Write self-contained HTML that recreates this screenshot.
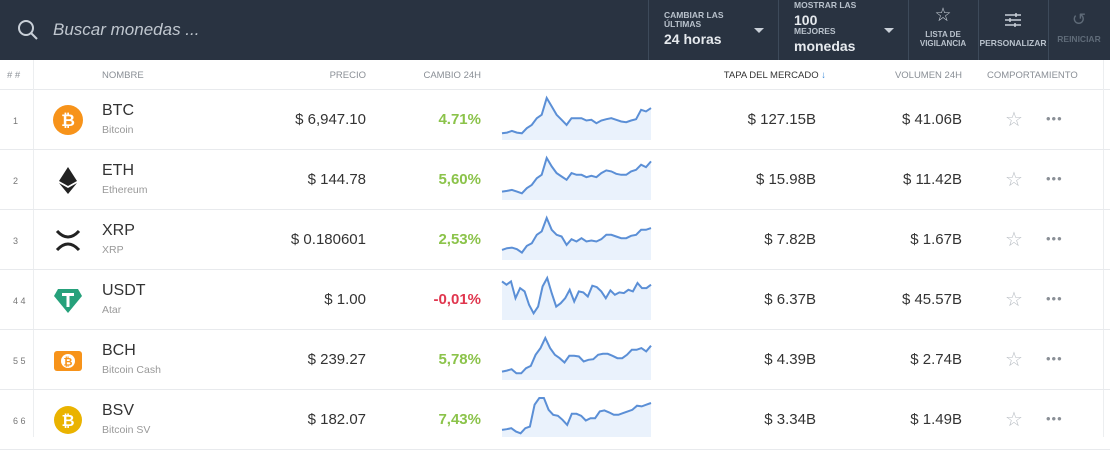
<!DOCTYPE html>
<html><head><meta charset="utf-8">
<style>
*{margin:0;padding:0;box-sizing:border-box}
body{width:1110px;height:437px;overflow:hidden;background:#fff;font-family:"Liberation Sans",Arial,sans-serif;position:relative}
.abs{position:absolute}
#top{left:0;top:0;width:1110px;height:60px;background:#293341}
.div{top:0;width:1px;height:60px;background:#3d4a5a}
.sm{font-size:8.5px;font-weight:bold;color:#b9c2cc;line-height:9px}
.big{font-size:14px;font-weight:bold;color:#e6eaee}
.ch{top:70px;font-size:9.5px;color:#8a8f96}
.row{left:0;width:1110px;height:60px;border-bottom:1px solid #e8eaed}
.rk{left:13px;font-size:9px;color:#777}
.sym{left:102px;font-size:16px;color:#333}
.nm{left:102px;font-size:10.5px;color:#999}
.r{text-align:right;font-size:15px;color:#333}
.pos{color:#8bc34a;font-weight:bold}
.neg{color:#e0364e;font-weight:bold}
</style></head><body>
<div id="top" class="abs">
 <svg class="abs" style="left:16px;top:18px" width="24" height="24"><circle cx="10" cy="10" r="7" fill="none" stroke="#c9d0d8" stroke-width="2"/><line x1="15" y1="15" x2="21" y2="21" stroke="#c9d0d8" stroke-width="2"/></svg>
 <div class="abs" style="left:53px;top:20px;font-size:17px;font-style:italic;color:#c0c7cf">Buscar monedas ...</div>
 <div class="abs div" style="left:648px"></div>
 <div class="abs" style="left:664px;top:11px"><div class="sm">CAMBIAR LAS<br>ÚLTIMAS</div><div class="big" style="margin-top:2px">24 horas</div></div>
 <div class="abs" style="left:754px;top:28px;width:0;height:0;border-left:5px solid transparent;border-right:5px solid transparent;border-top:5px solid #c9d0d8"></div>
 <div class="abs div" style="left:778px"></div>
 <div class="abs" style="left:794px;top:1px"><div class="sm">MOSTRAR LAS</div><div class="big" style="margin-top:4px;line-height:13px">100</div><div class="sm">MEJORES</div><div class="big" style="margin-top:2px">monedas</div></div>
 <div class="abs" style="left:884px;top:28px;width:0;height:0;border-left:5px solid transparent;border-right:5px solid transparent;border-top:5px solid #c9d0d8"></div>
 <div class="abs div" style="left:908px"></div>
 <div class="abs" style="left:909px;top:6px;width:68px;text-align:center"><div style="font-size:19px;color:#c9d0d8;line-height:20px">☆</div><div class="sm" style="font-size:8px;margin-top:4px">LISTA DE<br>VIGILANCIA</div></div>
 <div class="abs div" style="left:978px"></div>
 <div class="abs" style="left:978px;top:12px;width:70px;text-align:center"><svg width="18" height="16"><g stroke="#c9d0d8" stroke-width="1.5"><line x1="1" y1="3" x2="17" y2="3"/><line x1="1" y1="8" x2="17" y2="8"/><line x1="1" y1="13" x2="17" y2="13"/><line x1="12" y1="1" x2="12" y2="5"/><line x1="6" y1="6" x2="6" y2="10"/><line x1="11" y1="11" x2="11" y2="15"/></g></svg><div class="sm" style="font-size:8.5px;margin-top:6px">PERSONALIZAR</div></div>
 <div class="abs div" style="left:1048px"></div>
 <div class="abs" style="left:1048px;top:12px;width:62px;text-align:center"><div style="font-size:17px;color:#5f6b78;line-height:16px">↺</div><div class="sm" style="color:#5f6b78;margin-top:7px">REINICIAR</div></div>
</div>
<div class="abs" style="left:0;top:60px;width:1110px;height:30px;border-bottom:1px solid #e8eaed"></div>
<div class="abs" style="left:33px;top:60px;width:1px;height:377px;background:#eceef0"></div>
<div class="abs" style="left:1103px;top:60px;width:1px;height:377px;background:#eceef0"></div>
<div class="abs ch" style="left:7px"># #</div>
<div class="abs ch" style="left:102px">NOMBRE</div>
<div class="abs ch" style="left:300px;width:66px;text-align:right">PRECIO</div>
<div class="abs ch" style="left:400px;width:81px;text-align:right">CAMBIO 24H</div>
<div class="abs ch" style="left:700px;width:126px;text-align:right;color:#333">TAPA DEL MERCADO <span style="color:#3b8ad9">↓</span></div>
<div class="abs ch" style="left:860px;width:102px;text-align:right">VOLUMEN 24H</div>
<div class="abs ch" style="left:987px">COMPORTAMIENTO</div>
<div id="rows"></div>
<svg id="spark" class="abs" style="left:0;top:0" width="1110" height="437"></svg>
<script>
const ranks=["1","2","3","4 4","5 5","6 6"];
const symbols=["BTC","ETH","XRP","USDT","BCH","BSV"];
const names=["Bitcoin","Ethereum","XRP","Atar","Bitcoin Cash","Bitcoin SV"];
const prices=["$ 6,947.10","$ 144.78","$ 0.180601","$ 1.00","$ 239.27","$ 182.07"];
const changes=["4.71%","5,60%","2,53%","-0,01%","5,78%","7,43%"];
const caps=["$ 127.15B","$ 15.98B","$ 7.82B","$ 6.37B","$ 4.39B","$ 3.34B"];
const vols=["$ 41.06B","$ 11.42B","$ 1.67B","$ 45.57B","$ 2.74B","$ 1.49B"];
const sparkBTC=[20,22,27,22,20,35,45,65,75,125,100,75,60,45,65,65,65,58,60,50,58,62,65,60,55,53,58,62,90,85,95];
const sparkETH=[25,27,30,25,20,35,45,65,75,125,100,80,70,60,80,75,75,68,72,68,80,88,85,78,75,75,85,90,105,98,115];
const sparkXRP=[30,35,37,32,22,42,50,75,85,125,90,75,70,45,62,55,65,55,58,55,62,75,75,70,65,65,72,75,90,90,95];
const sparkUSDT=[115,105,115,65,95,85,45,20,40,100,125,80,40,50,65,90,55,85,82,70,102,98,85,65,88,75,82,80,90,85,110,95,95,105];
const sparkBCH=[25,28,32,20,20,35,42,75,95,125,95,75,65,52,72,72,70,55,60,62,75,78,78,72,65,65,75,90,90,95,85,102];
const sparkBSV=[30,32,35,25,20,35,40,105,125,125,90,75,72,60,45,78,78,72,58,65,65,85,88,82,75,75,80,85,90,102,100,105,110];
const sparks=[sparkBTC,sparkETH,sparkXRP,sparkUSDT,sparkBCH,sparkBSV];
const icons=[
'<circle cx="15" cy="15" r="15" fill="#f7931a"/><text x="15" y="21" text-anchor="middle" font-size="17" font-weight="bold" fill="#fff" font-family="Liberation Sans">₿</text>',
'<polygon points="15,2 24,16 15,21 6,16" fill="#222"/><polygon points="15,23 24,18 15,29 6,18" fill="#222"/>',
'<path d="M4 6 Q15 18 26 6 M4 25 Q15 13 26 25" stroke="#222" stroke-width="3" fill="none"/>',
'<polygon points="5,4 25,4 29,11 15,28 1,11" fill="#26a17b"/><rect x="9" y="8" width="12" height="3" fill="#fff"/><rect x="13.5" y="8" width="3" height="14" fill="#fff"/>',
'<rect x="1" y="6" width="28" height="20" rx="3" fill="#f7931a"/><circle cx="15" cy="16" r="7" fill="#fff"/><text x="15" y="20.5" text-anchor="middle" font-size="11" font-weight="bold" fill="#f7931a" font-family="Liberation Sans">₿</text>',
'<circle cx="15" cy="15" r="14" fill="#eab300"/><text x="15" y="21" text-anchor="middle" font-size="16" font-weight="bold" fill="#fff" font-family="Liberation Sans">₿</text>'];
const rowsEl=document.getElementById('rows');
const svg=document.getElementById('spark');
const NS='http://www.w3.org/2000/svg';
const x0=502,x1=651;
function sx(i,n){return x0+(x1-x0)*i/(n-1);}
function sy(v,top){return top+50-v*0.336;}
for(let i=0;i<6;i++){
 const top=90+60*i;
 const row=document.createElement('div');
 row.className='abs row';row.style.top=top+'px';
 
 
 const chg=changes[i].startsWith('-')?'neg':'pos';
 row.innerHTML=
 '<div class="abs rk" style="top:26px">'+ranks[i]+'</div>'+
 '<svg class="abs" style="left:53px;top:15px" width="30" height="30">'+icons[i]+'</svg>'+
 '<div class="abs sym" style="top:12px">'+symbols[i]+'</div>'+
 '<div class="abs nm" style="top:34px">'+names[i]+'</div>'+
 '<div class="abs r" style="left:200px;width:166px;top:21px">'+prices[i]+'</div>'+
 '<div class="abs r '+chg+'" style="left:380px;width:101px;top:21px">'+changes[i]+'</div>'+
 '<div class="abs r" style="left:680px;width:136px;top:21px">'+caps[i]+'</div>'+
 '<div class="abs r" style="left:840px;width:122px;top:21px">'+vols[i]+'</div>'+
 '<div class="abs" style="left:1005px;top:17px;font-size:20px;color:#b8bdc3">☆</div>'+
 '<div class="abs" style="left:1046px;top:21px;font-size:13px;color:#8a8f96;letter-spacing:1px">•••</div>';
 rowsEl.appendChild(row);
 const d=sparks[i];const n=d.length;
 let pts=d.map((v,j)=>sx(j,n).toFixed(1)+','+sy(v,top).toFixed(1)).join(' ');
 const area=document.createElementNS(NS,'polygon');
 area.setAttribute('points',pts+' '+x1+','+(top+50)+' '+x0+','+(top+50));
 area.setAttribute('fill','#eaf2fc');
 
 
 svg.appendChild(area);
 const line=document.createElementNS(NS,'polyline');
 line.setAttribute('points',pts);
 line.setAttribute('fill','none');line.setAttribute('stroke','#5b8fd6');line.setAttribute('stroke-width','2');
 
 
 svg.appendChild(line);
}
</script>
</body></html>
